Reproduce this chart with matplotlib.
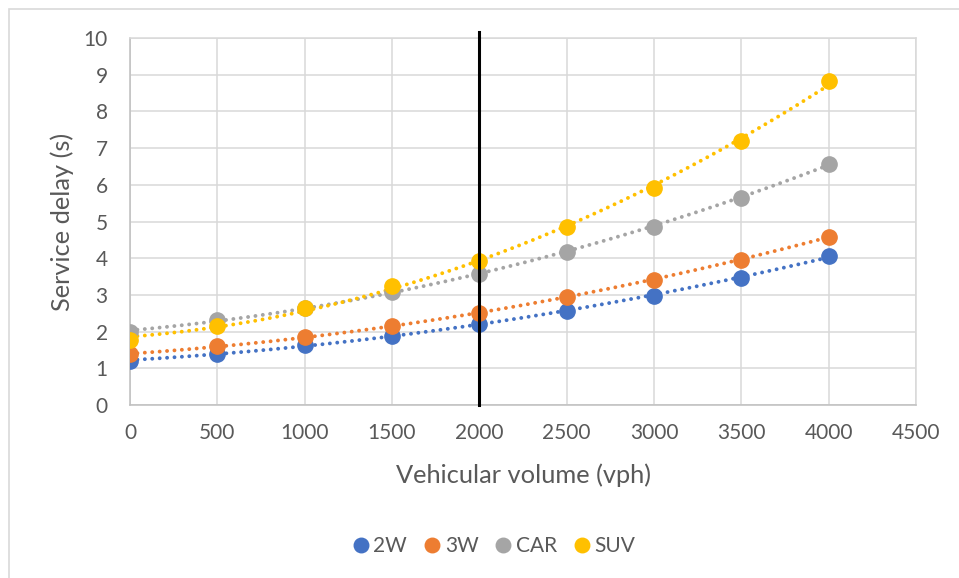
import numpy as np
from matplotlib import pyplot as plt
from matplotlib.patches import Rectangle

# vehicular volume (vph) and service delay (s) per vehicle class
volume = [0, 500, 1000, 1500, 2000, 2500, 3000, 3500, 4000]
delay_2w = [1.20, 1.40, 1.63, 1.88, 2.20, 2.57, 2.98, 3.47, 4.05]
delay_3w = [1.38, 1.60, 1.86, 2.15, 2.51, 2.95, 3.41, 3.96, 4.59]
delay_car = [2.00, 2.31, 2.65, 3.08, 3.58, 4.18, 4.85, 5.65, 6.57]
delay_suv = [1.78, 2.15, 2.65, 3.24, 3.92, 4.85, 5.90, 7.20, 8.82]

series = [('2W', delay_2w, '#4472C4'),
          ('3W', delay_3w, '#ED7D31'),
          ('CAR', delay_car, '#A5A5A5'),
          ('SUV', delay_suv, '#FFC000')]

plt.rcParams['font.family'] = ['Lato', 'DejaVu Sans']
txt = '#595959'
grid = '#D9D9D9'

fig = plt.figure(figsize=(9.59, 5.78), dpi=100)
fig.patches.append(Rectangle((9/959, -0.1), 1.2, 1 - 9/578 + 0.1, transform=fig.transFigure,
                             fill=False, edgecolor=grid, lw=1.2))
ax = fig.add_axes([130/959, 1 - 405/578, (916 - 130)/959, (405 - 38)/578])

xs = np.array(volume, dtype=float)
xfit = np.linspace(xs.min(), xs.max(), 200)
for name, ys, col in series:
    # second order trendline through each series
    coef = np.polyfit(xs, ys, 2)
    ax.plot(xfit, np.polyval(coef, xfit), color=col, lw=2.8,
            linestyle=(0, (0.01, 1.9)), dash_capstyle='round', zorder=2)
for name, ys, col in series:
    ax.plot(volume, ys, 'o', color=col, ms=11, mec=col, label=name, zorder=3)

ax.plot([2000, 2000], [0, 10.15], color='black', lw=2.2, clip_on=False, zorder=4)

ax.set_xlim(0, 4500)
ax.set_ylim(0, 10)
ax.set_xticks(np.arange(0, 4501, 500))
ax.set_yticks(np.arange(0, 11, 1))
ax.grid(True, color=grid, lw=1.1)
ax.set_axisbelow(True)
for s in ax.spines.values():
    s.set_color(grid)
    s.set_linewidth(1.1)
ax.spines['left'].set_color('#BFBFBF')
ax.spines['bottom'].set_color('#BFBFBF')
ax.tick_params(length=0, labelsize=15, colors=txt)
ax.tick_params(axis='y', pad=16)
ax.tick_params(axis='x', pad=13)

ax.set_xlabel('Vehicular volume (vph)', fontsize=18.3, color=txt, labelpad=15)
ax.set_ylabel('Service delay (s)', fontsize=18.3, color=txt, labelpad=7)

fig.legend(loc='center', bbox_to_anchor=(493/959, 1 - 546/578), ncol=4, frameon=False,
           fontsize=15, labelcolor=txt, handletextpad=0.1, columnspacing=0.7,
           handlelength=1.0, markerscale=0.95)

fig.savefig('out.png', dpi=100)
